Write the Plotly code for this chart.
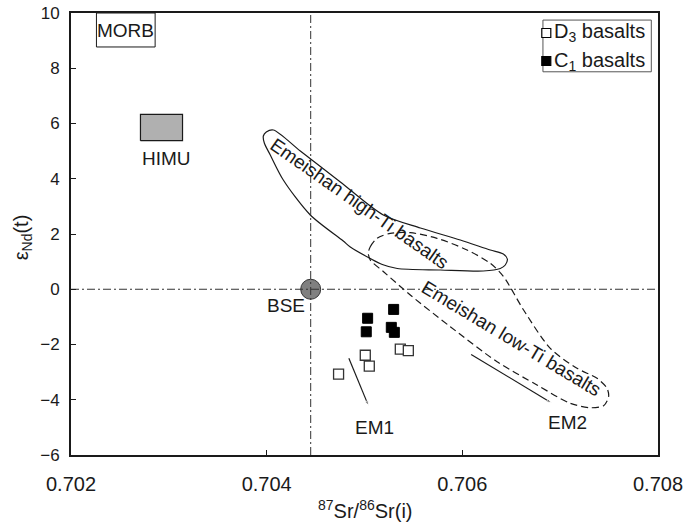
import plotly.graph_objects as go

FONT = "Liberation Sans, Arial, sans-serif"
INK = "#1a1a1a"

# Sr-Nd isotope data
d3_sr = [0.705008, 0.705049, 0.704735, 0.705366, 0.705448]
d3_nd = [-2.39, -2.78, -3.07, -2.17, -2.22]
c1_sr = [0.705298, 0.705032, 0.705018, 0.705274, 0.705305]
c1_nd = [-0.73, -1.05, -1.54, -1.38, -1.56]

# mantle reservoirs
bse_sr = [0.70445]
bse_nd = [0.0]
himu_sr = [0.70271, 0.70314]
himu_nd = [5.38, 6.33]
morb_sr = [0.70226, 0.70286]
morb_nd = [8.77, 10.0]

# enriched-mantle trends
em1_sr = [0.70484, 0.70504]
em1_nd = [-2.50, -4.21]
em2_sr = [0.70609, 0.70691]
em2_nd = [-2.36, -4.11]

# Emeishan basalt fields
high_ti_sr = [0.703966, 0.703996, 0.704068, 0.704344, 0.704753, 0.705192, 0.705571,
              0.705979, 0.706286, 0.706419, 0.706460, 0.706439, 0.706388, 0.706214,
              0.705775, 0.705335, 0.705182, 0.705059, 0.704855, 0.704783, 0.704446,
              0.704170, 0.704037, 0.703976, 0.703966]
high_ti_nd = [5.548, 5.692, 5.765, 5.005, 3.882, 2.688, 2.217,
              1.783, 1.421, 1.276, 1.095, 0.878, 0.751, 0.661,
              0.697, 0.751, 0.896, 1.113, 1.529, 1.747, 2.688,
              3.955, 4.860, 5.294, 5.548]
low_ti_sr = [0.705039, 0.705059, 0.705128, 0.705264, 0.705468, 0.705741, 0.706048,
             0.706286, 0.706422, 0.706626, 0.706899, 0.707172, 0.707377, 0.707479,
             0.707495, 0.707444, 0.707308, 0.707104, 0.706763, 0.706355, 0.705877,
             0.705468, 0.705195, 0.705059, 0.705039]
low_ti_nd = [1.312, 1.540, 1.844, 2.025, 2.047, 1.844, 1.421,
             0.939, 0.454, -0.751, -2.138, -2.862, -3.224, -3.585,
             -3.890, -4.215, -4.288, -4.129, -3.466, -2.623, -1.356,
             -0.208, 0.635, 1.059, 1.312]

# text labels: (text, sr, nd, angle)
labels = [
    ("MORB", 0.702555, 9.35, 0),
    ("HIMU", 0.702974, 4.75, 0),
    ("BSE", 0.704201, -0.57, 0),
    ("EM1", 0.705100, -4.99, 0),
    ("EM2", 0.707080, -4.83, 0),
    ("Emeishan high-Ti basalts", 0.704947, 3.09, 35),
    ("Emeishan low-Ti basalts", 0.706501, -1.77, 31),
]

x_ticks = [0.702, 0.704, 0.706, 0.708]
y_ticks = [-6, -4, -2, 0, 2, 4, 6, 8, 10]
x_range = [0.702, 0.708]
y_range = [-6, 10]

fig = go.Figure()


def box_path(xs, ys):
    return [xs[0], xs[1], xs[1], xs[0], xs[0]], [ys[0], ys[0], ys[1], ys[1], ys[0]]


# MORB and HIMU boxes
mx, my = box_path(morb_sr, morb_nd)
fig.add_trace(go.Scatter(x=mx, y=my, mode="lines", fill="toself", fillcolor="white",
                         line=dict(color=INK, width=1), hoverinfo="skip"))
hx, hy = box_path(himu_sr, himu_nd)
fig.add_trace(go.Scatter(x=hx, y=hy, mode="lines", fill="toself", fillcolor="#b0b0b0",
                         line=dict(color=INK, width=1.2), hoverinfo="skip"))

# Emeishan fields
fig.add_trace(go.Scatter(x=high_ti_sr, y=high_ti_nd, mode="lines",
                         line=dict(color=INK, width=1.2, shape="spline", smoothing=0.8),
                         hoverinfo="skip"))
fig.add_trace(go.Scatter(x=low_ti_sr, y=low_ti_nd, mode="lines",
                         line=dict(color=INK, width=1.2, dash="7px,4px", shape="spline", smoothing=0.8),
                         hoverinfo="skip"))

# EM1 / EM2 trends
for xs, ys in [(em1_sr, em1_nd), (em2_sr, em2_nd)]:
    fig.add_trace(go.Scatter(x=xs, y=ys, mode="lines+markers",
                             line=dict(color=INK, width=1.2),
                             marker=dict(symbol="arrow", size=[0, 5], angleref="previous", color=INK),
                             hoverinfo="skip"))

# BSE
fig.add_trace(go.Scatter(x=bse_sr, y=bse_nd, mode="markers",
                         marker=dict(symbol="circle", size=20, color="#808080",
                                     line=dict(color="#333333", width=1)),
                         hoverinfo="skip"))

# BSE reference lines
fig.add_trace(go.Scatter(x=[bse_sr[0], bse_sr[0]], y=y_range, mode="lines",
                         line=dict(color="#333333", width=1, dash="8px,3px,2px,3px"), hoverinfo="skip"))
fig.add_trace(go.Scatter(x=x_range, y=[bse_nd[0], bse_nd[0]], mode="lines",
                         line=dict(color="#333333", width=1, dash="8px,3px,2px,3px"), hoverinfo="skip"))

# samples
fig.add_trace(go.Scatter(x=d3_sr, y=d3_nd, mode="markers", name="D3 basalts",
                         marker=dict(symbol="square", size=10, color="white",
                                     line=dict(color="#333333", width=1.3))))
fig.add_trace(go.Scatter(x=c1_sr, y=c1_nd, mode="markers", name="C1 basalts",
                         marker=dict(symbol="square", size=10, color="black",
                                     line=dict(color="black", width=1))))

for text, sx, sy, ang in labels:
    fig.add_annotation(x=sx, y=sy, text=text, showarrow=False, textangle=ang,
                       font=dict(family=FONT, size=19, color=INK))

# legend box
fig.add_shape(type="rect", xref="paper", yref="paper", x0=0.804, x1=0.9886, y0=0.867, y1=0.984,
              line=dict(color="#555555", width=1), fillcolor="white")
legend_rows = [("D<sub>3</sub> basalts", 0.9548, "white"), ("C<sub>1</sub> basalts", 0.8914, "black")]
for text, ly, fill in legend_rows:
    fig.add_shape(type="rect", xref="paper", yref="paper", xsizemode="pixel", ysizemode="pixel",
                  xanchor=0.8097, yanchor=ly, x0=-4.5, x1=4.5, y0=-4.5, y1=4.5,
                  line=dict(color="black", width=1.2), fillcolor=fill)
    fig.add_annotation(xref="paper", yref="paper", x=0.8201, y=ly, xanchor="left", yanchor="middle",
                       text=text, showarrow=False, font=dict(family=FONT, size=20, color=INK))

# axis titles
fig.add_annotation(xref="paper", yref="paper", x=0.5, y=-0.1244, yanchor="middle",
                   text="<sup>87</sup>Sr/<sup>86</sup>Sr(i)", showarrow=False,
                   font=dict(family=FONT, size=20, color=INK))
fig.add_annotation(xref="paper", yref="paper", x=-0.083, y=0.493, xanchor="center", yanchor="middle",
                   text="ε<sub>Nd</sub>(t)", textangle=-90, showarrow=False,
                   font=dict(family=FONT, size=20, color=INK))

fig.update_layout(
    width=696, height=525,
    margin=dict(l=71, r=38, t=13, b=70, autoexpand=False),
    paper_bgcolor="white", plot_bgcolor="white",
    showlegend=False,
    font=dict(family=FONT, color=INK),
)
fig.update_xaxes(range=x_range, tickvals=x_ticks, ticktext=[f"{v:.3f}" for v in x_ticks],
                 showgrid=False, zeroline=False, showline=True, mirror=True,
                 linecolor=INK, linewidth=1.8, ticks="inside", ticklen=5, tickwidth=1, tickcolor=INK,
                 tickfont=dict(family=FONT, size=20, color=INK), ticklabelstandoff=10)
fig.update_yaxes(range=y_range, tickvals=y_ticks,
                 showgrid=False, zeroline=False, showline=True, mirror=True,
                 linecolor=INK, linewidth=1.8, ticks="inside", ticklen=5, tickwidth=1, tickcolor=INK,
                 tickfont=dict(family=FONT, size=17, color=INK), ticklabelstandoff=6)

fig.write_html("out.html")
